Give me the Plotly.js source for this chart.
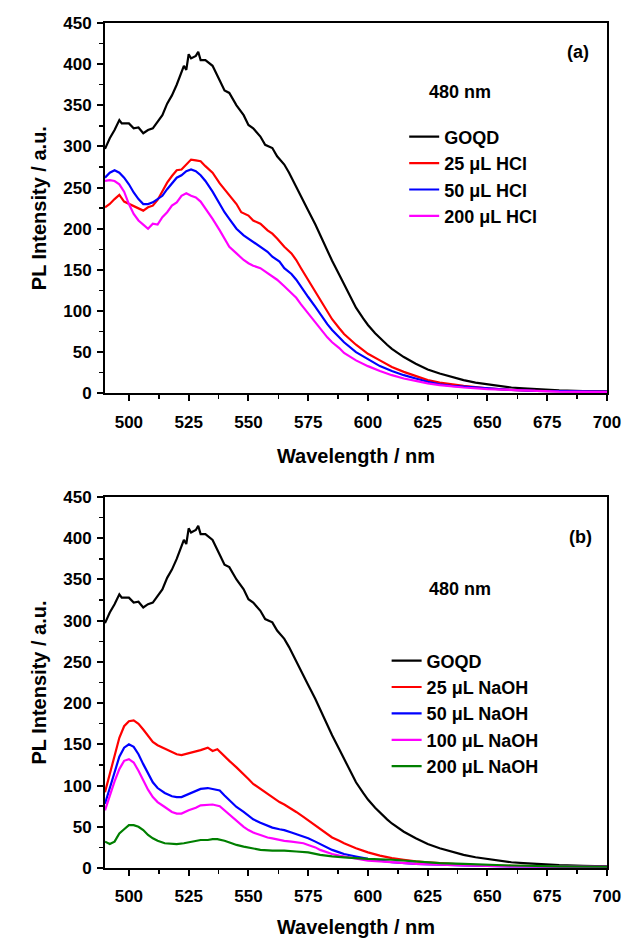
<!DOCTYPE html>
<html>
<head>
<meta charset="utf-8">
<script src="https://cdn.plot.ly/plotly-3.0.1.min.js"></script>
<style>html,body{margin:0;padding:0;background:#fff;}#chart{width:625px;height:938px;}</style>
</head>
<body>
<div id="chart"></div>
<script>
// ---- GOQD (same reference spectrum in both panels) ----
const goqdX = [490,492,494,496,497,500,502,504,506,508,510,512,514,516,518,520,522,523,524,525,526,528,529,530,532,535,538,540,542,545,548,550,552,555,557,560,562,565,567,570,572,575,578,580,582,585,588,590,592,595,598,600,603,605,608,610,615,620,625,630,635,640,645,650,655,660,665,670,675,680,690,700];
const goqdY = [297,310,320,332,328,328,322,323,316,320,322,330,338,352,362,375,390,398,393,412,407,410,415,405,405,398,380,368,365,350,338,326,322,312,302,298,288,278,268,250,240,222,205,192,180,161,144,132,121,104,91,83,73,67,59,54,44,36,29,24,20,16,13,11,9,7,6,5,4,3.5,2.5,2];

// ---- Panel (a): HCl ----
const hcl25X = [490,492,494,496,498,500,502,504,506,508,510,512,514,516,518,520,522,524,526,528,530,532,535,538,540,542,545,547,550,552,555,558,560,562,565,568,570,572,575,578,580,583,585,588,590,595,600,605,610,615,620,625,630,635,640,650,660,670,680,700];
const hcl25Y = [226,230,236,241,233,230,228,225,222,226,228,235,245,256,264,271,272,278,284,283,282,276,268,255,248,240,230,220,216,210,206,198,194,188,178,170,162,152,138,124,113,99,90,79,72,59,48,40,32,26,21,16,13,11,9,6,4,3,2.5,2];

const hcl50X = [490,492,494,496,498,500,502,504,506,508,510,512,514,516,518,520,522,524,526,528,530,532,535,538,540,542,545,548,550,552,555,558,560,563,565,568,570,572,575,578,580,583,585,588,590,595,600,605,610,615,620,625,630,635,640,650,660,670,680,700];
const hcl50Y = [262,268,271,268,262,254,244,236,230,230,232,236,240,248,255,262,265,270,272,270,265,258,245,230,220,212,200,192,188,183,178,172,166,160,152,145,138,129,117,105,96,84,77,68,62,50,41,33,27,22,18,14,11,9,8,6,4,3,2.5,2];

const hcl200X = [490,492,494,496,498,500,502,504,506,508,510,512,514,516,518,520,522,524,526,528,530,532,535,538,540,542,545,548,550,552,555,558,560,562,565,568,570,572,575,578,580,583,585,588,590,595,600,605,610,615,620,625,630,640,650,660,670,680,700];
const hcl200Y = [258,259,258,254,245,230,218,210,205,200,206,205,214,220,228,232,240,243,240,238,233,225,212,198,188,178,170,162,158,155,152,146,143,138,130,122,116,108,97,86,78,68,62,55,49,40,33,27,22,18,15,12,10,7,5,4,3,2,1.5];

// ---- Panel (b): NaOH ----
const naoh25X = [490,492,494,496,498,500,502,504,506,508,510,512,515,518,520,522,525,528,530,533,535,537,540,542,545,548,550,552,555,558,560,563,565,568,570,573,575,578,580,583,585,588,590,595,600,605,610,615,620,625,630,640,650,660,680,700];
const naoh25Y = [92,115,138,158,172,178,179,175,168,160,153,149,145,140,138,137,139,141,143,146,142,144,135,130,122,114,108,102,96,90,85,80,77,72,68,62,58,52,47,41,37,33,30,24,19,15,12,10,8,7,6,4,3,2.5,2,1.5];

const naoh50X = [490,492,494,496,498,500,502,504,506,508,510,512,515,518,520,522,525,528,530,533,535,538,540,542,545,548,550,552,555,558,560,563,565,568,570,573,575,578,580,583,585,588,590,595,600,605,610,620,630,640,660,700];
const naoh50Y = [78,98,118,135,146,150,147,138,126,114,104,97,91,87,86,86,90,94,96,97,96,94,88,82,74,68,63,59,55,51,49,47,46,43,41,38,36,32,29,25,22,19,17,14,11,9,7,5,4,3,2,1.5];

const naoh100X = [490,492,494,496,498,500,502,504,506,508,510,512,515,518,520,522,525,528,530,533,535,538,540,542,545,548,550,552,555,558,560,563,565,568,570,573,575,578,580,583,585,588,590,595,600,605,610,620,630,640,660,700];
const naoh100Y = [70,88,105,120,130,132,128,118,106,95,86,80,74,68,66,66,70,73,76,77,77,75,70,64,57,50,46,43,40,37,36,34,33,32,31,30,28,25,22,19,17,15,14,11,9,8,7,5,4,3,2,1.5];

const naoh200X = [490,492,494,496,498,500,502,504,506,508,510,512,515,518,520,523,525,528,530,533,535,537,540,543,545,548,550,555,560,565,570,575,580,585,590,595,600,610,620,630,640,650,660,680,700];
const naoh200Y = [32,29,32,42,47,52,52,50,46,40,36,33,30,29,29,30,31,33,34,34,35,35,33,30,28,26,25,22,21,21,20,19,16,14,13,12,11,10,8,6,5,4,3,2,1.5];

const namesA = ['GOQD','25 μL HCl','50 μL HCl','200 μL HCl'];
const namesB = ['GOQD','25 μL NaOH','50 μL NaOH','100 μL NaOH','200 μL NaOH'];
const xTicks = [500,525,550,575,600,625,650,675,700];
const yTicks = [0,50,100,150,200,250,300,350,400,450];

const C = {black:'#000000', red:'#ff0000', blue:'#0000ff', magenta:'#ff00ff', green:'#007f00'};
const FONT = '"Liberation Sans", Arial, sans-serif';

function tr(x, y, name, color, xa, ya, leg) {
  return {x: x, y: y, name: name, type: 'scatter', mode: 'lines',
          line: {color: color, width: 2.2}, xaxis: xa, yaxis: ya, legend: leg};
}

const data = [
  tr(goqdX, goqdY, namesA[0], C.black, 'x', 'y', 'legend'),
  tr(hcl25X, hcl25Y, namesA[1], C.red, 'x', 'y', 'legend'),
  tr(hcl50X, hcl50Y, namesA[2], C.blue, 'x', 'y', 'legend'),
  tr(hcl200X, hcl200Y, namesA[3], C.magenta, 'x', 'y', 'legend'),
  tr(goqdX, goqdY, namesB[0], C.black, 'x2', 'y2', 'legend2'),
  tr(naoh25X, naoh25Y, namesB[1], C.red, 'x2', 'y2', 'legend2'),
  tr(naoh50X, naoh50Y, namesB[2], C.blue, 'x2', 'y2', 'legend2'),
  tr(naoh100X, naoh100Y, namesB[3], C.magenta, 'x2', 'y2', 'legend2'),
  tr(naoh200X, naoh200Y, namesB[4], C.green, 'x2', 'y2', 'legend2')
];

function xAxis(anchor) {
  return {
    anchor: anchor, range: [490, 700], tickvals: xTicks,
    showline: true, mirror: true, linecolor: '#000', linewidth: 2,
    ticks: 'outside', ticklen: 6, tickwidth: 2, tickcolor: '#000',
    minor: {ticks: 'outside', ticklen: 4, tickwidth: 1.5, tickcolor: '#000', dtick: 12.5, tick0: 500},
    showgrid: false, zeroline: false, ticklabelstandoff: 6,
    tickfont: {family: FONT, size: 17, color: '#000', weight: 'bold'},
    title: {text: '<b>Wavelength / nm</b>', standoff: 18, font: {family: FONT, size: 20, color: '#000'}}
  };
}
function yAxis(anchor, domain) {
  return {
    anchor: anchor, domain: domain, range: [0, 450], tickvals: yTicks,
    showline: true, mirror: true, linecolor: '#000', linewidth: 2,
    ticks: 'outside', ticklen: 6, tickwidth: 2, tickcolor: '#000',
    minor: {ticks: 'outside', ticklen: 4, tickwidth: 1.5, tickcolor: '#000', dtick: 25, tick0: 0},
    showgrid: false, zeroline: false, ticklabelstandoff: 2,
    tickfont: {family: FONT, size: 17, color: '#000', weight: 'bold'},
    title: {text: '<b>PL Intensity / a.u.</b>', standoff: 11, font: {family: FONT, size: 20, color: '#000'}}
  };
}

const legendBase = {
  font: {family: FONT, size: 18, color: '#000', weight: 'bold'},
  bgcolor: 'rgba(0,0,0,0)', borderwidth: 0, xanchor: 'left', yanchor: 'top',
  tracegroupgap: 0
};

const layout = {
  width: 625, height: 938,
  margin: {l: 105, r: 18, t: 23, b: 70},
  paper_bgcolor: '#fff', plot_bgcolor: '#fff',
  showlegend: true,
  xaxis: xAxis('y'),
  yaxis: yAxis('x', [0.5618, 1]),
  xaxis2: xAxis('y2'),
  yaxis2: yAxis('x2', [0, 0.439]),
  legend: Object.assign({}, legendBase, {x: 0.596, y: 0.887}),
  legend2: Object.assign({}, legendBase, {x: 0.561, y: 0.267}),
  annotations: [
    {text: '<b>(a)</b>', x: 688, y: 415, xref: 'x', yref: 'y', showarrow: false, font: {family: FONT, size: 18, color: '#000'}},
    {text: '<b>480 nm</b>', x: 638.5, y: 366, xref: 'x', yref: 'y', showarrow: false, font: {family: FONT, size: 18, color: '#000'}},
    {text: '<b>(b)</b>', x: 689, y: 401, xref: 'x2', yref: 'y2', showarrow: false, font: {family: FONT, size: 18, color: '#000'}},
    {text: '<b>480 nm</b>', x: 638.5, y: 338, xref: 'x2', yref: 'y2', showarrow: false, font: {family: FONT, size: 18, color: '#000'}}
  ]
};

Plotly.newPlot('chart', data, layout, {staticPlot: true, displayModeBar: false});
</script>
</body>
</html>
